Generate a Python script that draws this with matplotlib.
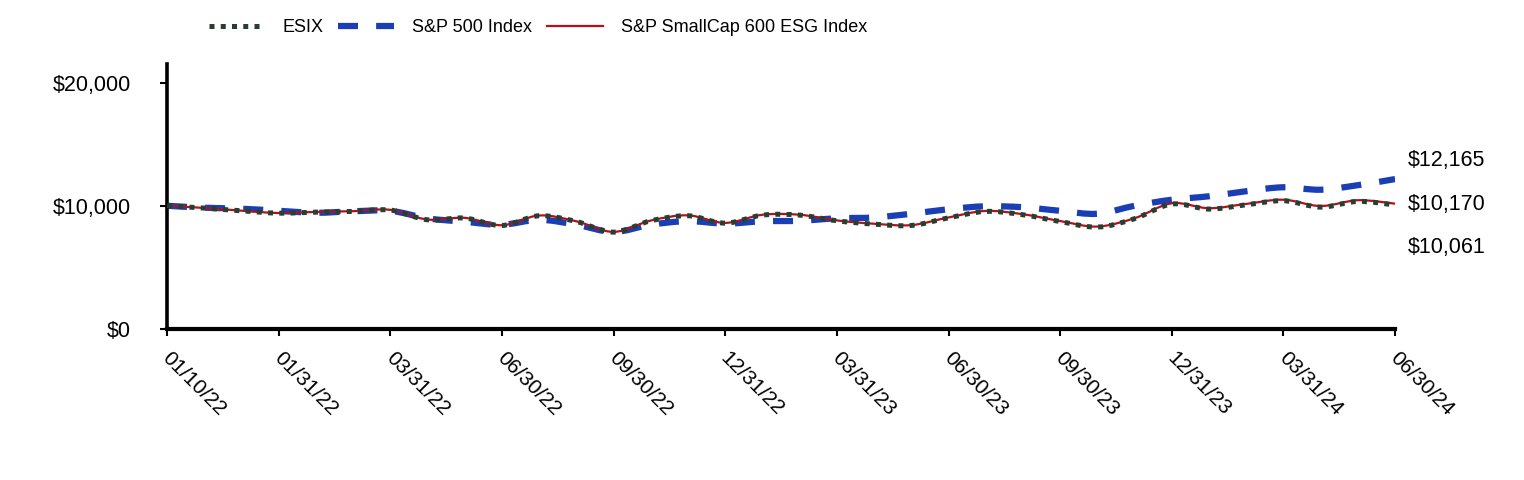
import numpy as np
import matplotlib.pyplot as plt
import matplotlib.transforms as mtransforms
from matplotlib.path import Path
from matplotlib.patches import PathPatch
from matplotlib.lines import Line2D

plt.rcParams["font.family"] = ["Liberation Sans", "DejaVu Sans"]

# tick labels shown every third point
tick_labels = ["01/10/22", "01/31/22", "03/31/22", "06/30/22", "09/30/22", "12/31/22",
               "03/31/23", "06/30/23", "09/30/23", "12/31/23", "03/31/24", "06/30/24"]

# growth of $10,000
esix = [10000, 9810, 9590, 9400, 9480, 9540, 9650, 8860, 9000, 8400, 9190, 8720,
        7860, 8780, 9190, 8590, 9240, 9240, 8780, 8510, 8400, 9020, 9540, 9270,
        8720, 8270, 8950, 10140, 9730, 10080, 10410, 9890, 10350, 10061]
sp500 = [10000, 9840, 9760, 9590, 9430, 9550, 9590, 8980, 8700, 8460, 8860, 8460,
         7880, 8460, 8750, 8550, 8740, 8780, 8980, 9050, 9350, 9720, 9960, 9880,
         9590, 9350, 10000, 10490, 10770, 11180, 11500, 11300, 11670, 12165]
smallcap = [10000, 9820, 9600, 9410, 9500, 9560, 9670, 8880, 9020, 8420, 9210, 8740,
            7880, 8800, 9220, 8610, 9270, 9270, 8810, 8540, 8430, 9050, 9580, 9310,
            8760, 8310, 8990, 10200, 9800, 10150, 10490, 9980, 10450, 10170]

series = [
    ("ESIX", esix, dict(color="#263f33", lw=3.6, ls=(0, (1, 1.25)), zorder=4)),
    ("S&P 500 Index", sp500, dict(color="#1a3fb4", lw=4.5, ls=(0, (3.2, 2.9)), zorder=2)),
    ("S&P SmallCap 600 ESG Index", smallcap, dict(color="#b01218", lw=1.6, ls="-", zorder=3)),
]


def spline_path(y):
    """smooth curve through the points (catmull-rom as bezier segments)"""
    x = np.arange(len(y), dtype=float)
    y = np.asarray(y, dtype=float)
    verts = [(x[0], y[0])]
    codes = [Path.MOVETO]
    n = len(y)
    for i in range(n - 1):
        p0 = max(i - 1, 0)
        p3 = min(i + 2, n - 1)
        c1 = (x[i] + (x[i + 1] - x[p0]) / 6, y[i] + (y[i + 1] - y[p0]) / 6)
        c2 = (x[i + 1] - (x[p3] - x[i]) / 6, y[i + 1] - (y[p3] - y[i]) / 6)
        verts += [c1, c2, (x[i + 1], y[i + 1])]
        codes += [Path.CURVE4] * 3
    return Path(verts, codes)


fig = plt.figure(figsize=(15.24, 4.8), dpi=100)
ax = fig.add_axes([0.1096, 0.3146, 0.8058, 0.552])

handles = []
for name, vals, st in series:
    patch = PathPatch(spline_path(vals), fill=False, edgecolor=st["color"],
                      linewidth=st["lw"], linestyle=st["ls"], zorder=st["zorder"],
                      capstyle="butt")
    ax.add_patch(patch)
    handles.append(Line2D([], [], color=st["color"], lw=st["lw"], ls=st["ls"],
                          dash_capstyle="butt"))

n = len(esix)
ax.set_xlim(0, n - 1)
ax.set_ylim(0, 21500)
ax.set_yticks([0, 10000, 20000])
ax.set_yticklabels(["$0", "$10,000", "$20,000"])
ax.set_xticks(np.arange(0, n, 3))
ax.set_xticklabels(tick_labels, rotation=-45, ha="left", va="top", rotation_mode="anchor")

for side in ["top", "right"]:
    ax.spines[side].set_visible(False)
ax.spines["left"].set_linewidth(2.6)
ax.spines["bottom"].set_linewidth(3.0)
ax.tick_params(axis="y", length=5, width=1.5, pad=21, labelsize=15.5)
ax.tick_params(axis="x", length=5, width=1.5, pad=9, labelsize=15)

# nudge rotated date labels a little to the right
shift = mtransforms.ScaledTranslation(5 / 100, 0, fig.dpi_scale_trans)
for lab in ax.get_xticklabels():
    lab.set_transform(lab.get_transform() + shift)

# end-of-line value labels
offsets = {"ESIX": -42, "S&P 500 Index": 19, "S&P SmallCap 600 ESG Index": -1}
for name, vals, st in series:
    ax.annotate(f"${vals[-1]:,.0f}", xy=(n - 1, vals[-1]), xytext=(13, offsets[name]),
                textcoords="offset pixels", ha="left", va="center", fontsize=15.5,
                annotation_clip=False)

fig.legend(handles, [s[0] for s in series], loc="center", bbox_to_anchor=(0.353, 0.942),
           ncol=3, frameon=False, fontsize=13, handlelength=3.1, handletextpad=1.0,
           columnspacing=0.8)

fig.savefig("out.png", dpi=100)
